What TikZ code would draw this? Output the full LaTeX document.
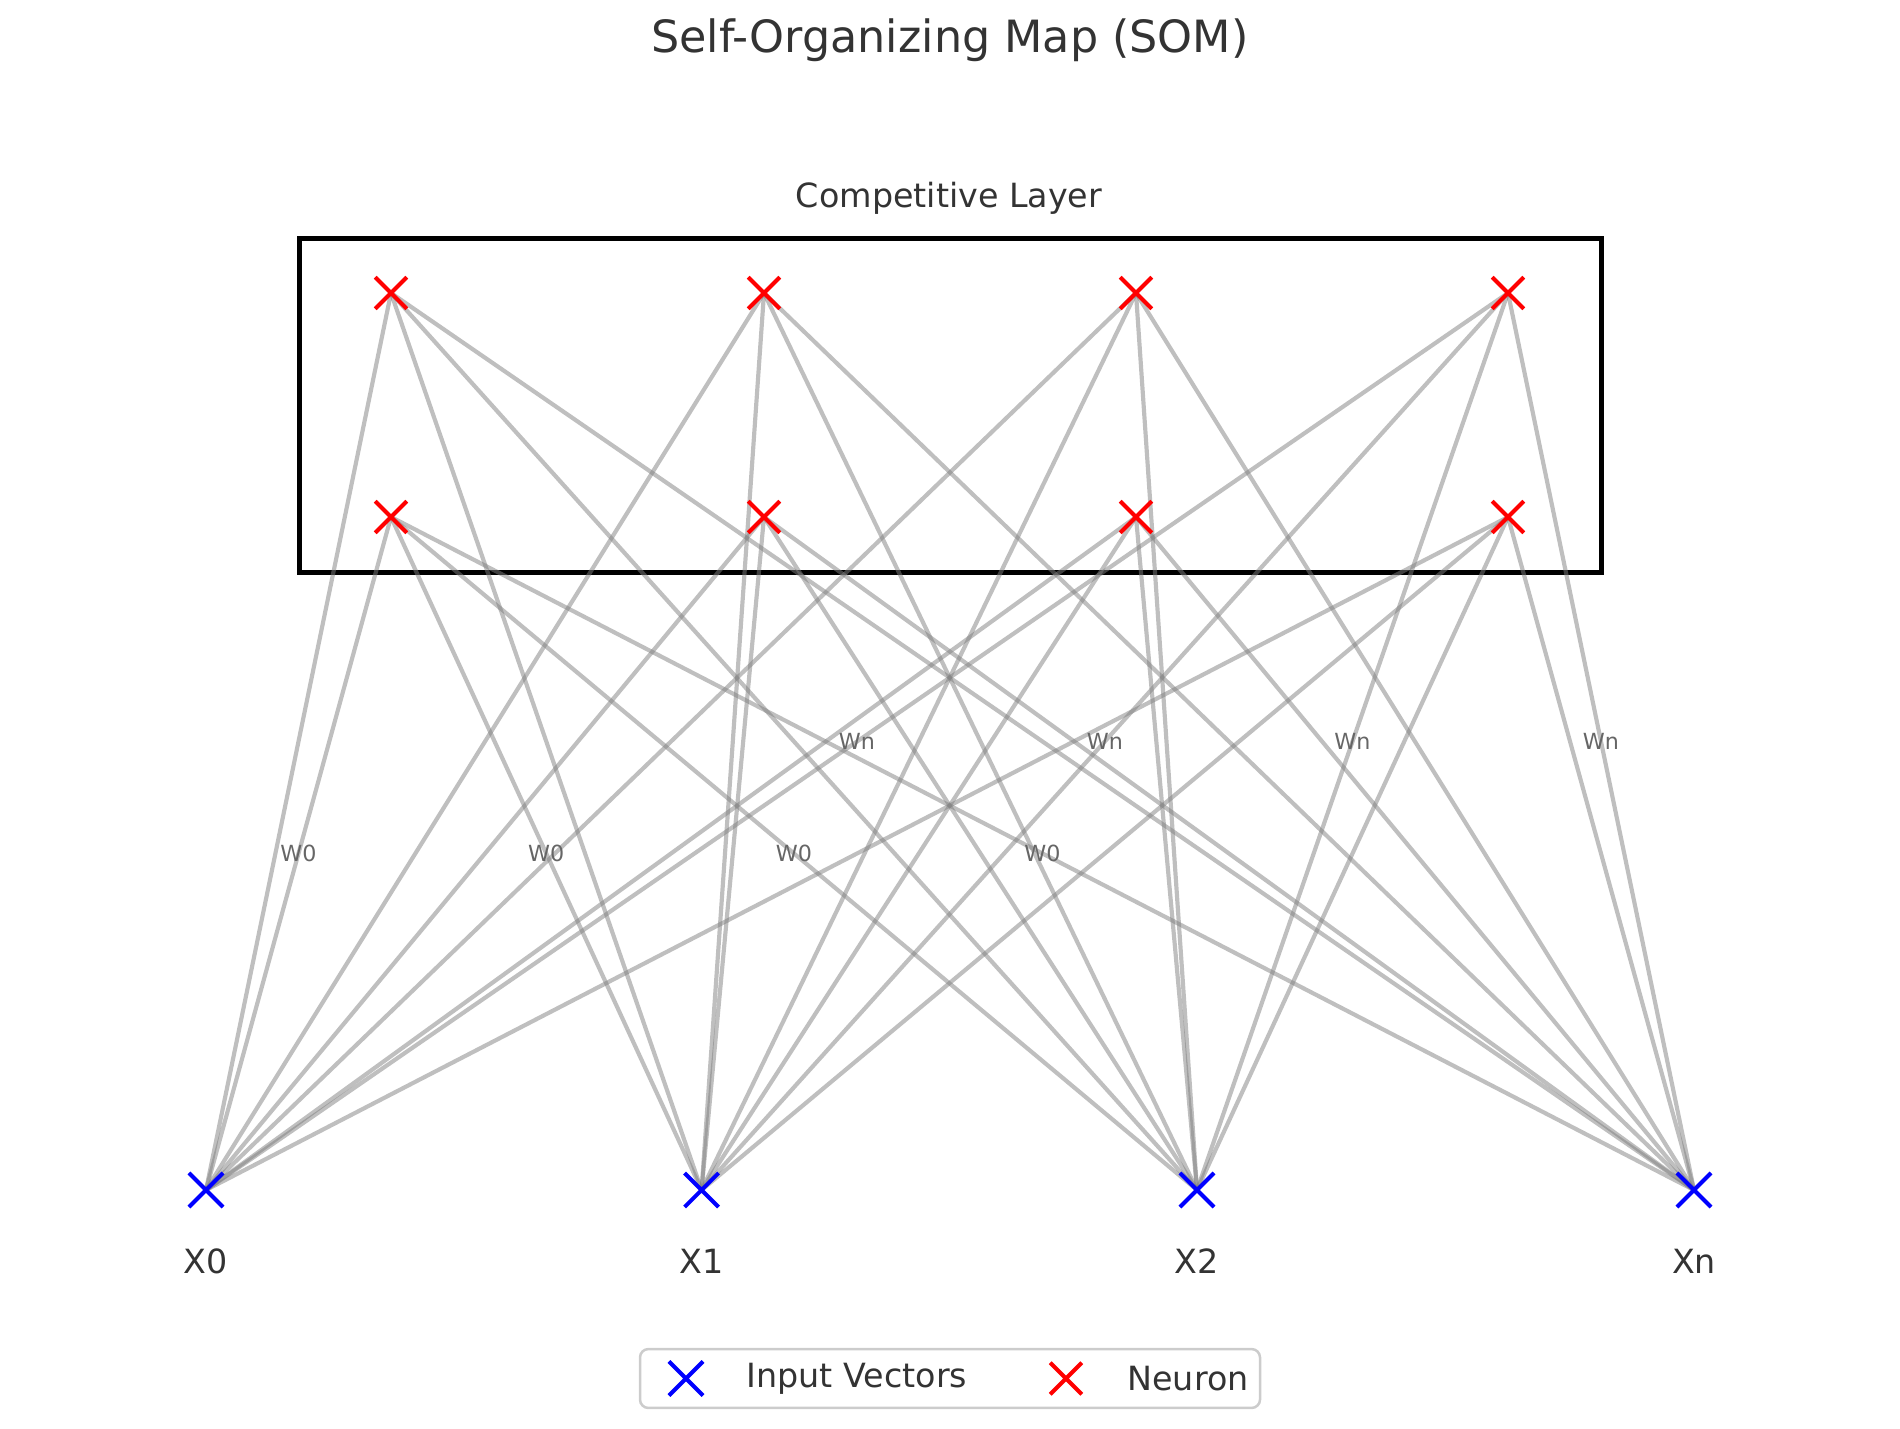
\documentclass[tikz,border=0pt]{standalone}
\usepackage{fontspec}
\setmainfont{DejaVu Sans}
\usetikzlibrary{shapes.misc,calc}
\definecolor{txt}{HTML}{333333}
\definecolor{wlab}{HTML}{666666}
\definecolor{legbd}{HTML}{CCCCCC}
\begin{document}
\begin{tikzpicture}[x=0.36pt,y=-0.36pt,
  link/.style={draw=gray,draw opacity=0.5,line width=1.5pt},
  neuron/.style={cross out,draw=red,line width=1.45pt,minimum size=9.9pt,inner sep=0pt},
  inputv/.style={cross out,draw=blue,line width=1.45pt,minimum size=10.8pt,inner sep=0pt},
  wlabel/.style={font=\fontsize{8}{9.6}\selectfont,text=wlab,inner sep=0pt},
  biglabel/.style={font=\fontsize{12}{14.4}\selectfont,text=txt,inner sep=0pt},
  titlestyle/.style={font=\fontsize{16}{19.2}\selectfont,text=txt,inner sep=0pt},
  layerbox/.style={draw=black,line width=1.8pt},
  legendbox/.style={draw=legbd,line width=0.9pt,rounded corners=3pt,fill=white,
    minimum width=223.2pt,minimum height=21.2pt,inner sep=0pt}
]
\useasboundingbox (0,0) rectangle (1900,1429);

% title and layer caption
\node[titlestyle] (title) at (950,40) {Self-Organizing Map (SOM)};
\node[biglabel] (layercap) at (949,198) {Competitive Layer};

% competitive layer box
\draw[layerbox] (299,238) rectangle (1601,572);

% coordinates
\coordinate (x0) at (206,1190);
\coordinate (x1) at (701.6,1190);
\coordinate (x2) at (1197,1190);
\coordinate (x3) at (1694,1190);
\coordinate (n00) at (391,293);
\coordinate (n01) at (764,293);
\coordinate (n02) at (1136,293);
\coordinate (n03) at (1508,293);
\coordinate (n10) at (391,517);
\coordinate (n11) at (764,517);
\coordinate (n12) at (1136,517);
\coordinate (n13) at (1508,517);

% connections
\foreach \i in {0,...,3}{
  \foreach \r in {0,1}{
    \foreach \c in {0,...,3}{
      \draw[link] (x\i) -- (n\r\c);
    }
  }
}

% weight labels
\foreach \i in {0,...,3}{
  \node[wlabel] (w0lab\i) at ($(x\i)!0.5!(n10)$) {W0};
  \node[wlabel] (wnlab\i) at ($(x\i)!0.5!(n03)$) {Wn};
}

% markers
\foreach \r in {0,1}{
  \foreach \c in {0,...,3}{
    \node[neuron] (m\r\c) at (n\r\c) {};
  }
}
\foreach \i in {0,...,3}{
  \node[inputv] (mx\i) at (x\i) {};
}

% input labels
\node[biglabel] (lx0) at (206,1261) {X0};
\node[biglabel] (lx1) at (701.6,1261) {X1};
\node[biglabel] (lx2) at (1197,1261) {X2};
\node[biglabel] (lx3) at (1694,1261) {Xn};

% legend
\node[legendbox] (legend) at (950,1378.5) {};
\node[inputv] (legin) at (686,1378.5) {};
\node[biglabel,anchor=west] (legintxt) at (746,1378.5) {Input Vectors};
\node[neuron] (legne) at (1066,1378.5) {};
\node[biglabel,anchor=west] (legnetxt) at (1127,1378.5) {Neuron};
\end{tikzpicture}
\end{document}
